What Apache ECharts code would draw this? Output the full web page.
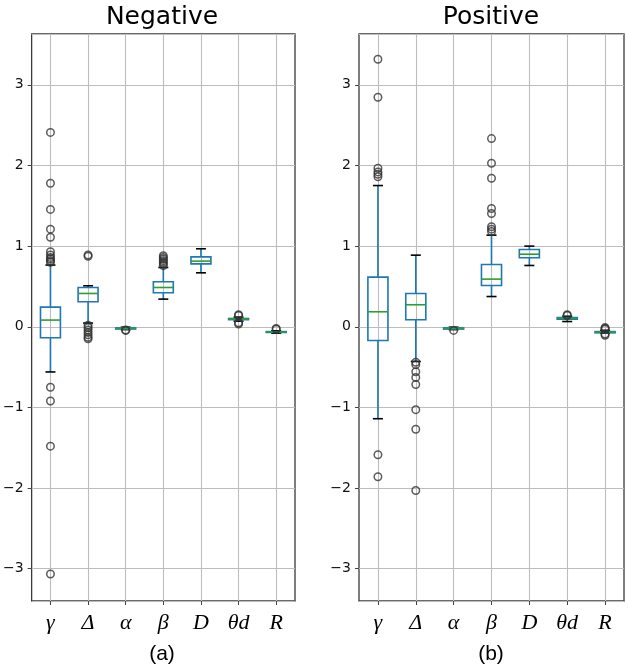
<!DOCTYPE html>
<html><head><meta charset="utf-8">
<script src="https://cdn.jsdelivr.net/npm/echarts@6/dist/echarts.min.js"></script>
<style>html,body{margin:0;padding:0;background:#fff}#c{width:628px;height:669px}</style>
</head><body><div id="c"></div>
<script>
const categories = ['γ', 'Δ', 'α', 'β', 'D', 'θd', 'R'];
const panelTitles = ['Negative', 'Positive'];
const panelTags = ['(a)', '(b)'];

// per category: [lower whisker, Q1, median, Q3, upper whisker]
const negativeBoxes = [
  [-0.56, -0.136, 0.083, 0.244, 0.765],
  [0.046, 0.31, 0.413, 0.487, 0.508],
  [-0.035, -0.028, -0.02, -0.014, -0.005],
  [0.343, 0.421, 0.487, 0.558, 0.735],
  [0.669, 0.78, 0.814, 0.867, 0.967],
  [0.07, 0.088, 0.095, 0.103, 0.12],
  [-0.08, -0.07, -0.065, -0.06, -0.05]
];
const negativeOutliers = [
  [2.41, 1.78, 1.455, 1.21, 1.11, 0.93, 0.89, 0.86, 0.84, 0.82, 0.80, -0.75, -0.92, -1.48, -3.065],
  [0.89, 0.875, 0.02, -0.01, -0.04, -0.07, -0.10, -0.13, -0.15],
  [-0.04, -0.045],
  [0.76, 0.78, 0.80, 0.82, 0.84, 0.86, 0.88],
  [],
  [0.15, 0.14, 0.05, 0.035],
  [-0.03, -0.02]
];

const positiveBoxes = [
  [-1.14, -0.17, 0.186, 0.616, 1.751],
  [-0.43, 0.087, 0.273, 0.413, 0.888],
  [-0.035, -0.028, -0.02, -0.014, -0.005],
  [0.375, 0.512, 0.591, 0.772, 1.136],
  [0.76, 0.855, 0.90, 0.958, 1.0],
  [0.065, 0.095, 0.105, 0.115, 0.13],
  [-0.08, -0.075, -0.066, -0.06, -0.045]
];
const positiveOutliers = [
  [3.317, 2.846, 1.966, 1.92, 1.89, 1.86, -1.586, -1.859],
  [-0.44, -0.47, -0.558, -0.628, -0.715, -1.028, -1.27, -2.03],
  [-0.045],
  [2.333, 2.028, 1.842, 1.466, 1.404, 1.24, 1.21, 1.18],
  [],
  [0.15, 0.14],
  [-0.01, -0.02, -0.03, -0.09, -0.105]
];

const boxSets = [negativeBoxes, positiveBoxes];
const outlierSets = [negativeOutliers, positiveOutliers];

const chart = echarts.init(document.getElementById('c'), null, {renderer: 'canvas'});

const gridLefts = [30, 359];
const panelCenters = [162, 491];

function renderBox(params, api) {
  const x = api.value(0);
  const lo = api.value(1), q1 = api.value(2), med = api.value(3), q3 = api.value(4), hi = api.value(5);
  const band = api.size([1, 0])[0];
  const half = band * 0.265;
  const capHalf = half / 2;
  const pLo = api.coord([x, lo]), pQ1 = api.coord([x, q1]), pMed = api.coord([x, med]),
        pQ3 = api.coord([x, q3]), pHi = api.coord([x, hi]);
  const cx = pMed[0];
  const blue = '#1f77b4', green = '#2ca02c', black = '#000';
  const lw = 1.6;
  return {
    type: 'group',
    children: [
      {type: 'line', shape: {x1: cx, y1: pQ3[1], x2: cx, y2: pHi[1]}, style: {stroke: blue, lineWidth: lw}},
      {type: 'line', shape: {x1: cx, y1: pQ1[1], x2: cx, y2: pLo[1]}, style: {stroke: blue, lineWidth: lw}},
      {type: 'line', shape: {x1: cx - capHalf, y1: pHi[1], x2: cx + capHalf, y2: pHi[1]}, style: {stroke: black, lineWidth: lw}},
      {type: 'line', shape: {x1: cx - capHalf, y1: pLo[1], x2: cx + capHalf, y2: pLo[1]}, style: {stroke: black, lineWidth: lw}},
      {type: 'rect', shape: {x: cx - half, y: pQ3[1], width: half * 2, height: pQ1[1] - pQ3[1]}, style: {stroke: blue, fill: 'none', lineWidth: lw}},
      {type: 'line', shape: {x1: cx - half, y1: pMed[1], x2: cx + half, y2: pMed[1]}, style: {stroke: green, lineWidth: lw}}
    ]
  };
}

const grids = [], xAxes = [], yAxes = [], series = [], graphics = [];
for (let p = 0; p < 2; p++) {
  grids.push({left: gridLefts[p], top: 34, width: 265, height: 567, show: true,
    borderColor: '#3a3a3a', borderWidth: 1.3, backgroundColor: 'transparent', containLabel: false});
  xAxes.push({
    type: 'category', gridIndex: p, data: categories, boundaryGap: true, position: 'bottom',
    axisLine: {show: false, onZero: false},
    axisTick: {show: true, alignWithLabel: true, length: 4, lineStyle: {color: '#444', width: 1}},
    axisLabel: {fontFamily: 'Liberation Serif', fontStyle: 'italic', fontSize: 22, color: '#000', margin: 11},
    splitLine: {show: true, alignWithLabel: true, lineStyle: {color: '#bdbdbd', width: 1.1}}
  });
  yAxes.push({
    type: 'value', gridIndex: p, min: -3.4, max: 3.63, splitNumber: 6, position: 'left',
    axisLine: {show: false, onZero: false},
    axisTick: {show: true, length: 4, lineStyle: {color: '#444', width: 1}},
    axisLabel: {fontFamily: 'DejaVu Sans', fontSize: 14, color: '#111', margin: 8,
      showMinLabel: false, showMaxLabel: false,
      formatter: v => Number.isInteger(v) ? (v < 0 ? '\u2212' + (-v) : String(v)) : ''},
    splitLine: {show: true, lineStyle: {color: '#bdbdbd', width: 1.1}}
  });
  series.push({
    type: 'custom', xAxisIndex: p, yAxisIndex: p, z: 2,
    renderItem: renderBox,
    encode: {x: 0, y: [1, 2, 3, 4, 5]},
    data: boxSets[p].map((b, i) => [i].concat(b))
  });
  const pts = [];
  outlierSets[p].forEach((arr, i) => arr.forEach(v => pts.push([i, v])));
  series.push({
    type: 'scatter', xAxisIndex: p, yAxisIndex: p, z: 3,
    symbol: 'circle', symbolSize: 7.5,
    itemStyle: {color: 'rgba(0,0,0,0)', borderColor: '#333', borderWidth: 1.5},
    data: pts
  });
  graphics.push({type: 'text', x: panelCenters[p], y: 17,
    style: {text: panelTitles[p], fontFamily: 'DejaVu Sans', fontSize: 25, fill: '#000', align: 'center', verticalAlign: 'middle'}});
  graphics.push({type: 'text', x: panelCenters[p], y: 654,
    style: {text: panelTags[p], fontFamily: 'Liberation Sans', fontSize: 21, fill: '#000', align: 'center', verticalAlign: 'middle'}});
}

chart.setOption({
  animation: false,
  backgroundColor: '#fff',
  grid: grids,
  xAxis: xAxes,
  yAxis: yAxes,
  series: series,
  graphic: graphics
});
</script>
</body></html>
